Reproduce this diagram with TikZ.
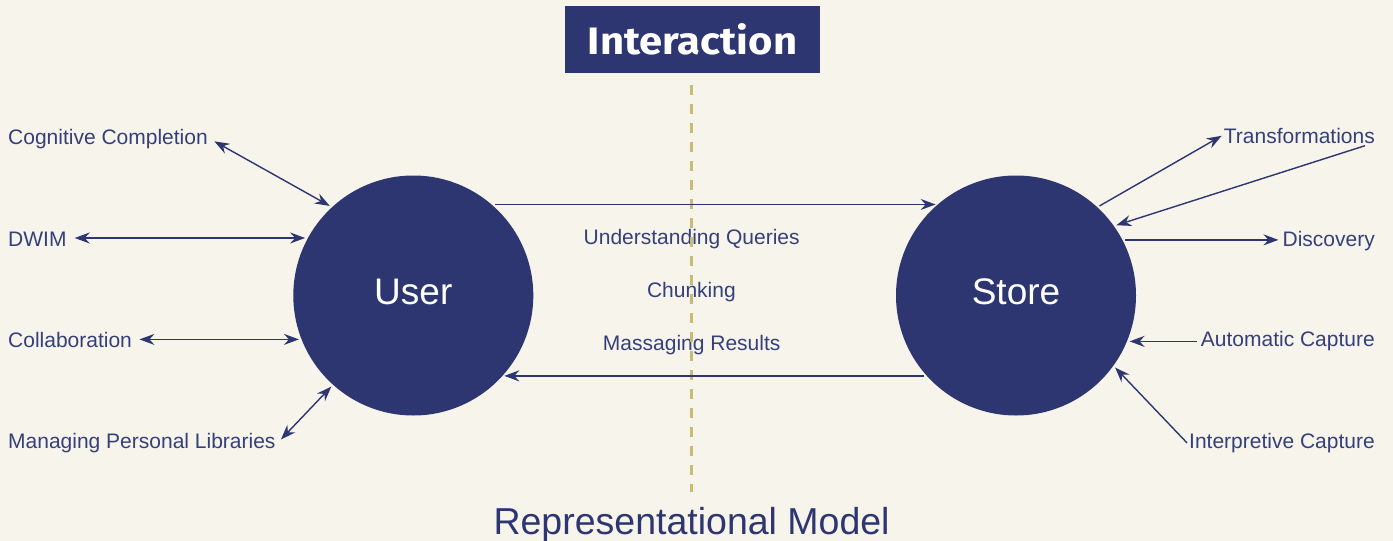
\documentclass[tikz,border=0pt]{standalone}
\usepackage{fontspec}
\setmainfont{Liberation Sans}
\newfontfamily\titlefont{Fira Sans}
\usetikzlibrary{arrows.meta,calc}
\definecolor{navy}{HTML}{2D3670}
\definecolor{lblc}{HTML}{35407A}
\definecolor{bgc}{HTML}{F7F4EC}
\definecolor{dashc}{HTML}{C8BC74}
\begin{document}
\begin{tikzpicture}[x=1pt,y=-1pt,
  navtip/.tip={Stealth[length=15pt,width=11pt,inset=5pt]},
  lbl/.style={text=lblc, font=\fontsize{21}{24}\selectfont, inner sep=2pt},
  mid/.style={lbl, anchor=base},
  hub/.style={circle, fill=navy, minimum size=240pt, inner sep=0pt, outer sep=2.5pt,
    text=white, font=\fontsize{37}{44}\selectfont, text height=26.5pt, text depth=8pt},
  conn/.style={draw=navy, line width=1.4pt, -navtip},
  both/.style={draw=navy, line width=1.4pt, navtip-navtip},
  guide/.style={draw=dashc, line width=3pt, dash pattern=on 10pt off 9pt},
]
\fill[bgc] (0,0) rectangle (1393,541);
\useasboundingbox (0,0) rectangle (1393,541);

% title and bottom caption
\node[fill=navy, minimum width=255pt, minimum height=67.3pt, inner sep=0pt, text=white]
  (title) at (692.5,39.7) {\resizebox{209.4pt}{31pt}{\titlefont\bfseries Interaction}};
\node[text=navy, font=\fontsize{37.5}{44}\selectfont, anchor=base, inner sep=0pt]
  (rep) at (691.6,534) {Representational Model};

% hubs
\node[hub] (user) at (413.3,295.5) {User};
\node[hub] (store) at (1016,295.5) {Store};

% left labels
\node[lbl, anchor=base west] (cog) at (6,144.3) {Cognitive Completion};
\node[lbl, anchor=base west] (dwim) at (6,246) {DWIM};
\node[lbl, anchor=base west] (collab) at (6,347.3) {Collaboration};
\node[lbl, anchor=base west] (mpl) at (6,448.3) {Managing Personal Libraries};

% right labels
\node[lbl, anchor=base east] (trans) at (1377,143.3) {Transformations};
\node[lbl, anchor=base east] (disc) at (1377,246.7) {Discovery};
\node[lbl, anchor=base east] (auto) at (1377,346.7) {Automatic Capture};
\node[lbl, anchor=base east] (interp) at (1377,448.3) {Interpretive Capture};

% middle labels
\node[mid] (uq) at (691.7,244) {Understanding Queries};
\node[mid] (chunk) at (691.4,297.3) {Chunking};
\node[mid] (mr) at (691.7,350) {Massaging Results};

% dashed divider
\coordinate (dtop) at ($(title.south)+(-0.8,11.7)$);
\coordinate (dbot) at (dtop |- 0,491.7);
\draw[guide] (dtop) -- (dbot);

% left connectors
\draw[both, shorten <=5pt] (cog.east) -- (user.133.9);
\draw[both, shorten <=6pt] (dwim.east |- user.152.5) -- (user.152.5);
\draw[both, shorten <=5.3pt] (collab.east |- user.201.9) -- (user.201.9);
\draw[both, shorten <=4.7pt] (mpl.east) -- (user.228.4);

% middle connectors
\draw[conn] (user.48.3) -- (store.131.7 |- user.48.3);
\draw[conn] (store.221.5) -- (user.318.5 |- store.221.5);

% right connectors
\draw[conn] (store.47.8) -- (trans.west);
\draw[conn] ([xshift=-12pt]trans.south east) -- (store.35.9);
\draw[conn, shorten >=2pt] (store.27.3) -- (disc.west |- store.27.3);
\draw[conn, shorten <=2pt] (auto.west |- store.338.1) -- (store.338.1);
\draw[conn] (interp.west) -- (store.324.7);
\end{tikzpicture}
\end{document}
